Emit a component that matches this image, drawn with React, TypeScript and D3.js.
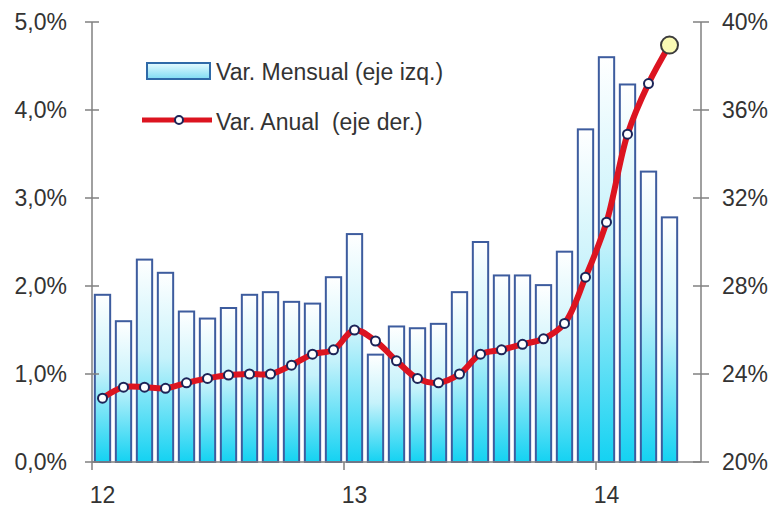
import React, { useEffect, useRef } from 'react';
import * as d3 from 'd3';

// Jan 2012 .. Apr 2014 (the axis keeps one empty slot for May 2014)
const monthly = [
  1.9, 1.6, 2.3, 2.15, 1.71, 1.63, 1.75, 1.9, 1.93, 1.82, 1.8, 2.1,
  2.59, 1.22, 1.54, 1.52, 1.57, 1.93, 2.5, 2.12, 2.12, 2.01, 2.39, 3.78,
  4.6, 4.29, 3.3, 2.78,
];
const annual = [
  22.9, 23.4, 23.4, 23.35, 23.6, 23.8, 23.95, 24.0, 24.0, 24.4, 24.9, 25.1,
  26.0, 25.5, 24.6, 23.8, 23.6, 24.0, 24.9, 25.1, 25.35, 25.6, 26.3, 28.4,
  30.9, 34.9, 37.2, 38.95,
];
const slotCount = 29;
const yearLabels = [
  { index: 0, label: '12' },
  { index: 12, label: '13' },
  { index: 24, label: '14' },
];
const leftTicks = [0, 1, 2, 3, 4, 5];
const rightTicks = [20, 24, 28, 32, 36, 40];

const W = 775;
const H = 509;
const FONT = '"Liberation Sans", Arial, sans-serif';

export default function App() {
  const svgRef = useRef<SVGSVGElement>(null);

  useEffect(() => {
    if (!svgRef.current) return;
    const svg = d3.select(svgRef.current);
    svg.selectAll('*').remove();

    const margin = { top: 22, right: 74, bottom: 47, left: 92 };
    const x0 = margin.left;
    const x1 = W - margin.right;
    const yTop = margin.top;
    const yBottom = H - margin.bottom;

    const x = d3.scaleLinear().domain([0, slotCount]).range([x0, x1]);
    const yL = d3.scaleLinear().domain([0, 5]).range([yBottom, yTop]);
    const yR = d3.scaleLinear().domain([20, 40]).range([yBottom, yTop]);
    const slot = x(1) - x(0);
    const barW = slot * 0.73;

    const defs = svg.append('defs');
    const grad = defs.append('linearGradient')
      .attr('id', 'barGrad')
      .attr('x1', 0).attr('y1', 0).attr('x2', 0).attr('y2', 1);
    grad.append('stop').attr('offset', '0%').attr('stop-color', '#ffffff');
    grad.append('stop').attr('offset', '45%').attr('stop-color', '#c6f2fb');
    grad.append('stop').attr('offset', '100%').attr('stop-color', '#14d2f2');

    const legGrad = defs.append('linearGradient')
      .attr('id', 'legGrad')
      .attr('x1', 0).attr('y1', 0).attr('x2', 0).attr('y2', 1);
    legGrad.append('stop').attr('offset', '0%').attr('stop-color', '#e6fbff');
    legGrad.append('stop').attr('offset', '100%').attr('stop-color', '#7fdcf3');

    // bars
    svg.append('g')
      .selectAll('rect')
      .data(monthly)
      .join('rect')
      .attr('x', (_, i) => x(i) + (slot - barW) / 2)
      .attr('y', d => yL(d))
      .attr('width', barW)
      .attr('height', d => yBottom - yL(d))
      .attr('fill', 'url(#barGrad)')
      .attr('stroke', '#3d5c9e')
      .attr('stroke-width', 2);

    const axisColor = '#808080';

    // x baseline + ticks
    svg.append('line')
      .attr('x1', x0).attr('x2', x1)
      .attr('y1', yBottom).attr('y2', yBottom)
      .attr('stroke', axisColor).attr('stroke-width', 1.5);
    yearLabels.forEach(({ index, label }) => {
      svg.append('line')
        .attr('x1', x(index)).attr('x2', x(index))
        .attr('y1', yBottom).attr('y2', yBottom + 8)
        .attr('stroke', axisColor).attr('stroke-width', 1.5);
      svg.append('text')
        .attr('x', x(index) + slot / 2)
        .attr('y', yBottom + 41)
        .attr('text-anchor', 'middle')
        .attr('font-family', FONT)
        .attr('font-size', 23)
        .attr('fill', '#333')
        .text(label);
    });

    // left axis
    svg.append('line')
      .attr('x1', x0).attr('x2', x0)
      .attr('y1', yTop).attr('y2', yBottom)
      .attr('stroke', axisColor).attr('stroke-width', 1.5);
    leftTicks.forEach(t => {
      svg.append('line')
        .attr('x1', x0 - 7).attr('x2', x0 + 7)
        .attr('y1', yL(t)).attr('y2', yL(t))
        .attr('stroke', axisColor).attr('stroke-width', 1.5);
      svg.append('text')
        .attr('x', x0 - 25)
        .attr('y', yL(t))
        .attr('dy', '0.36em')
        .attr('text-anchor', 'end')
        .attr('font-family', FONT)
        .attr('font-size', 23)
        .attr('fill', '#333')
        .text(t.toFixed(1).replace('.', ',') + '%');
    });

    // right axis
    svg.append('line')
      .attr('x1', x1).attr('x2', x1)
      .attr('y1', yTop).attr('y2', yBottom)
      .attr('stroke', axisColor).attr('stroke-width', 1.5);
    rightTicks.forEach(t => {
      svg.append('line')
        .attr('x1', x1 - 8).attr('x2', x1 + 8)
        .attr('y1', yR(t)).attr('y2', yR(t))
        .attr('stroke', axisColor).attr('stroke-width', 1.5);
      svg.append('text')
        .attr('x', x1 + 21)
        .attr('y', yR(t))
        .attr('dy', '0.36em')
        .attr('text-anchor', 'start')
        .attr('font-family', FONT)
        .attr('font-size', 23)
        .attr('fill', '#333')
        .text(`${t}%`);
    });

    // annual line
    const line = d3.line<number>()
      .x((_, i) => x(i) + slot / 2)
      .y(d => yR(d))
      .curve(d3.curveCatmullRom.alpha(0.5));
    svg.append('path')
      .datum(annual)
      .attr('d', line)
      .attr('fill', 'none')
      .attr('stroke', '#dc1420')
      .attr('stroke-width', 6)
      .attr('stroke-linejoin', 'round');

    const last = annual.length - 1;
    svg.append('g')
      .selectAll('circle')
      .data(annual)
      .join('circle')
      .attr('cx', (_, i) => x(i) + slot / 2)
      .attr('cy', d => yR(d))
      .attr('r', (_, i) => (i === last ? 8.5 : 4.5))
      .attr('fill', (_, i) => (i === last ? '#fbfbb4' : '#ffffff'))
      .attr('stroke', (_, i) => (i === last ? '#3c3c3c' : '#1c2458'))
      .attr('stroke-width', 2);

    // legend
    const lg = svg.append('g');
    lg.append('rect')
      .attr('x', 147).attr('y', 63).attr('width', 63).attr('height', 16)
      .attr('fill', 'url(#legGrad)')
      .attr('stroke', '#2f6aa8')
      .attr('stroke-width', 2);
    lg.append('text')
      .attr('x', 216).attr('y', 80)
      .attr('font-family', FONT).attr('font-size', 23).attr('fill', '#333')
      .text('Var. Mensual (eje izq.)');
    lg.append('line')
      .attr('x1', 142).attr('x2', 212).attr('y1', 120).attr('y2', 120)
      .attr('stroke', '#dc1420').attr('stroke-width', 5);
    lg.append('circle')
      .attr('cx', 179).attr('cy', 120).attr('r', 4)
      .attr('fill', '#fff').attr('stroke', '#1c2458').attr('stroke-width', 2);
    lg.append('text')
      .attr('x', 216).attr('y', 130)
      .attr('font-family', FONT).attr('font-size', 23).attr('fill', '#333')
      .attr('xml:space', 'preserve')
      .style('white-space', 'pre')
      .text('Var. Anual  (eje der.)');
  }, []);

  return (
    <svg
      ref={svgRef}
      width={W}
      height={H}
      style={{ position: 'absolute', left: 0, top: 0, background: '#fff' }}
    />
  );
}
